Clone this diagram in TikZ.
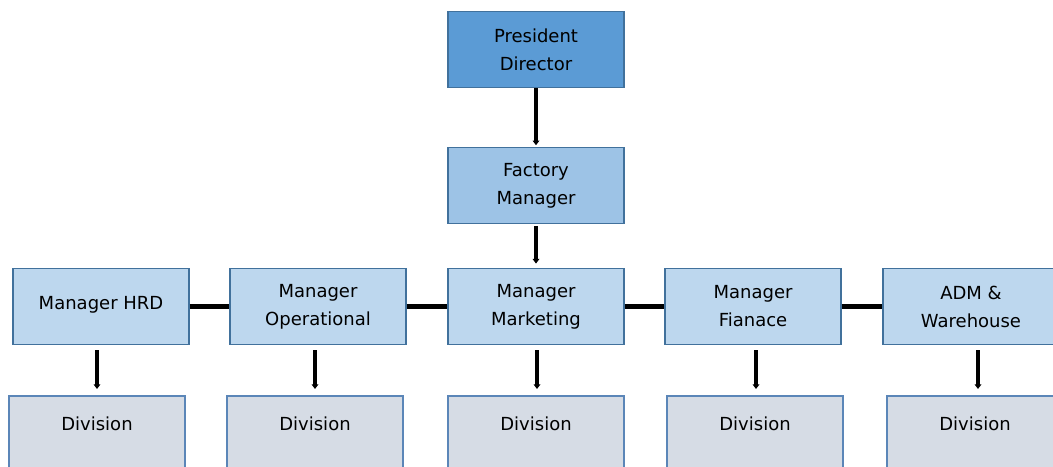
\documentclass[tikz,border=0pt]{standalone}
\usepackage{fontspec}
\setmainfont{DejaVu Sans}
\usetikzlibrary{arrows.meta}
\definecolor{pres}{HTML}{5B9BD5}
\definecolor{fact}{HTML}{9DC3E6}
\definecolor{mgr}{HTML}{BDD7EE}
\definecolor{div}{HTML}{D6DCE5}
\definecolor{edge}{HTML}{41719C}
\definecolor{divedge}{HTML}{5B86B8}
\tikzset{
  box/.style={draw=edge, line width=0.9pt, minimum width=132pt, minimum height=57.5pt, inner sep=0pt, align=center, font=\fontsize{13.5}{21}\selectfont},
  divbox/.style={draw=divedge, line width=0.9pt, fill=div, minimum width=132pt, minimum height=60pt, inner sep=0pt},
  arr/.style={line width=3pt, -{Triangle[length=3.5pt,width=5pt]}},
  link/.style={line width=3.2pt},
  lbl/.style={font=\fontsize{13.5}{21}\selectfont}
}
\begin{document}
\begin{tikzpicture}[x=0.75pt,y=-0.75pt]
\useasboundingbox (0,0) rectangle (1053,467);
\clip (0,0) rectangle (1053,467);
\node[box, fill=pres] (pd) at (536,49.5) {President\\Director};
\node[box, fill=fact] (fm) at (536,185.5) {Factory\\Manager};
\node[box, fill=mgr] (m1) at (101,306.5) {\raisebox{5.5pt}{Manager HRD}};
\node[box, fill=mgr] (m2) at (318,306.5) {Manager\\Operational};
\node[box, fill=mgr] (m3) at (536,306.5) {Manager\\Marketing};
\node[box, fill=mgr] (m4) at (753,306.5) {Manager\\Fianace};
\node[box, fill=mgr] (m5) at (971,306.5) {ADM \&\\Warehouse};
\node[divbox] (d1) at (97,436) {};
\node[divbox] (d2) at (315,436) {};
\node[divbox] (d3) at (536,436) {};
\node[divbox] (d4) at (755,436) {};
\node[divbox] (d5) at (975,436) {};
\foreach \i in {1,...,5} \node[lbl] (t\i) at ([yshift=-21.5pt]d\i.north) {Division};
\draw[arr] (pd.south) -- ([yshift=1pt]fm.north);
\draw[arr] ([yshift=-1pt]fm.south) -- ([yshift=3pt]m3.north);
\draw[link] (m1) -- (m2);
\draw[link] (m2) -- (m3);
\draw[link] (m3) -- (m4);
\draw[link] (m4) -- (m5);
\coordinate (s1) at (97,350); \coordinate (e1) at (97,389);
\coordinate (s2) at (315,350); \coordinate (e2) at (315,389);
\coordinate (s3) at (537,350); \coordinate (e3) at (537,389);
\coordinate (s4) at (756,350); \coordinate (e4) at (756,389);
\coordinate (s5) at (978,350); \coordinate (e5) at (978,389);
\foreach \i in {1,...,5} \draw[arr] (s\i) -- (e\i);
\end{tikzpicture}
\end{document}
